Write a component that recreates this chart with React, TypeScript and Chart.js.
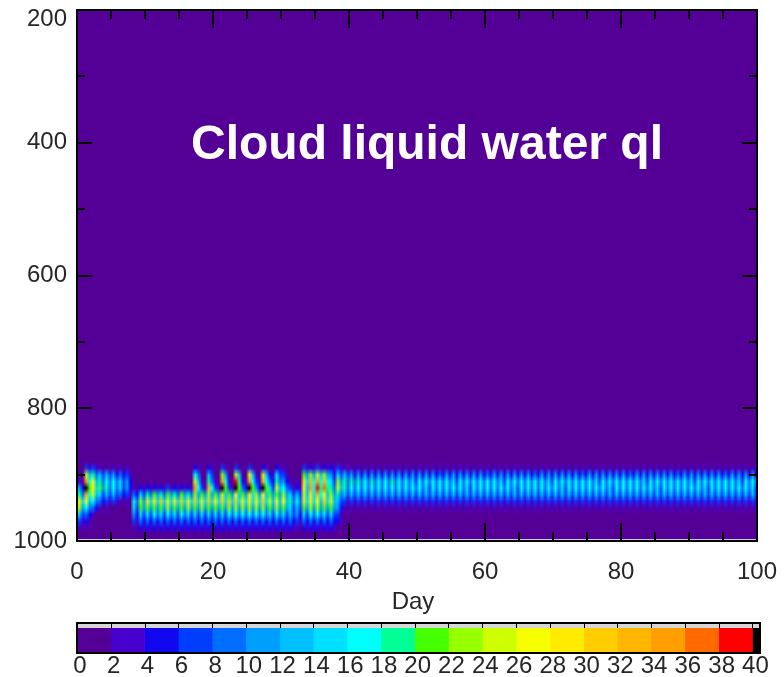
import React, { useEffect, useRef } from "react";
import { Chart, registerables } from "chart.js";

Chart.register(...registerables);

// Pressure (hPa) of each profile row, top to bottom.
const levels = [880, 890, 900, 910, 920, 930, 940, 950, 960, 970, 980, 990, 1000];

// Daily cloud liquid water profiles, days 0..99, one string per day.
// Each character is the colour class of a row: 0-9 then a-j for 10-19
// (class n covers 2n..2n+2 on the 0-40 scale), k for values above 40.
const dailyProfiles = [
  "000159eb63100", "03chkgd842100", "039dec8410000", "0169a74100000", "0168963100000",
  "0158863000000", "0147741000000", "0135531000000", "0000148753100", "000027ba74200",
  "000029ea74200", "00002aea84200", "000029fa74200", "00003aeb84200", "000029ea74200",
  "00002afa84200", "000029eb74200", "028chbfa74200", "00013aeb74200", "0269gbfa74200",
  "00013aea74200", "03bhkcfa74200", "00013afb84200", "03cjkdfb84200", "00024aeb84200",
  "03dhkeeb84200", "00135beb84200", "02cgkdfb84200", "00247aca74200", "0279cadb84200",
  "01358bda74200", "0001379764200", "0001268653100", "03aedcea74200", "02bgheeb84200",
  "03chjgdb84200", "02bgidfa74200", "02579bca74200", "037bc96532000", "0169963100000",
  "0159863100000", "0159863100000", "0158863100000", "0159863100000", "0158863100000",
  "0158863100000", "0159863100000", "0158863100000", "0158863100000", "0157863100000",
  "0158863100000", "0158763100000", "0158863100000", "0148863100000", "0158863100000",
  "0157863100000", "0158863100000", "0158763100000", "0158863100000", "0158863100000",
  "0148863100000", "0158863100000", "0157863100000", "0158863100000", "0158763100000",
  "0158863100000", "0158863100000", "0148863100000", "0158863100000", "0157863100000",
  "0158863100000", "0158763100000", "0158863100000", "0158863100000", "0148863100000",
  "0158863100000", "0157863100000", "0158863100000", "0158763100000", "0158863100000",
  "0158863100000", "0148863100000", "0158863100000", "0157863100000", "0158863100000",
  "0158763100000", "0158863100000", "0158863100000", "0148863100000", "0158863100000",
  "0157863100000", "0158863100000", "0158763100000", "0158863100000", "0158863100000",
  "0148863100000", "0158863100000", "0157863100000", "0158863100000", "0158763100000",
];

const dayTicks = [0, 20, 40, 60, 80, 100];
const pressureTicks = [200, 400, 600, 800, 1000];
const dayMinorStep = 5;
const pressureMinorStep = 100;

// Colour scale bounds (0..40 every 2) and one colour per class, plus black above 40.
const colorBounds = [0, 2, 4, 6, 8, 10, 12, 14, 16, 18, 20, 22, 24, 26, 28, 30, 32, 34, 36, 38, 40];
const palette = [
  "rgb(84,0,150)", "rgb(72,0,205)", "rgb(18,8,240)", "rgb(0,62,255)", "rgb(0,110,255)",
  "rgb(0,158,255)", "rgb(0,192,255)", "rgb(0,224,255)", "rgb(0,255,255)", "rgb(0,255,150)",
  "rgb(70,255,0)", "rgb(150,255,0)", "rgb(205,255,0)", "rgb(245,255,0)", "rgb(255,235,0)",
  "rgb(255,205,0)", "rgb(255,182,0)", "rgb(255,158,0)", "rgb(255,105,0)", "rgb(255,0,0)",
  "rgb(0,0,0)",
];

const FONT = "'Liberation Sans', Arial, sans-serif";
const TEXT = "#262626";

const decode = (c: string) => parseInt(c, 36) * 2 + 1;
const colorFor = (v: number) => palette[Math.max(0, Math.min(20, Math.floor(v / 2)))];

const heatmapPlugin = {
  id: "heatmap",
  beforeDatasetsDraw(chart: any) {
    const { ctx, chartArea: a, scales } = chart;
    const x = scales.x;
    const y = scales.y;

    // One texel per half day and level: the daytime value and the weaker night value.
    const off = document.createElement("canvas");
    off.width = dailyProfiles.length * 2;
    off.height = levels.length;
    const o = off.getContext("2d")!;
    o.fillStyle = palette[0];
    o.fillRect(0, 0, off.width, off.height);
    dailyProfiles.forEach((col, day) => {
      levels.forEach((_p, r) => {
        const v = decode(col[r]);
        o.fillStyle = colorFor(v);
        o.fillRect(day * 2, r, 1, 1);
        o.fillStyle = colorFor(v * 0.5);
        o.fillRect(day * 2 + 1, r, 1, 1);
      });
    });

    const step = levels[1] - levels[0];
    const x0 = x.getPixelForValue(0.1);
    const x1 = x.getPixelForValue(dailyProfiles.length + 0.1);
    const y0 = y.getPixelForValue(levels[0] - step / 2);
    const y1 = y.getPixelForValue(levels[levels.length - 1] + step / 2);

    ctx.save();
    ctx.fillStyle = palette[0];
    ctx.fillRect(a.left, a.top, a.right - a.left, a.bottom - a.top);
    ctx.beginPath();
    ctx.rect(a.left, a.top, a.right - a.left, a.bottom - a.top);
    ctx.clip();
    ctx.imageSmoothingEnabled = true;
    ctx.drawImage(off, x0, y0, x1 - x0, y1 - y0);
    ctx.fillStyle = "rgb(206,200,226)";
    ctx.fillRect(a.left, a.bottom - 2, a.right - a.left, 2);
    ctx.restore();
  },
  afterDraw(chart: any) {
    const { ctx, chartArea: a, scales } = chart;
    const x = scales.x;
    const y = scales.y;
    ctx.save();

    // Panel caption
    ctx.fillStyle = "#ffffff";
    ctx.font = `bold 48px ${FONT}`;
    ctx.textAlign = "center";
    ctx.textBaseline = "alphabetic";
    ctx.fillText("Cloud liquid water ql", 427, 159);

    // Frame
    ctx.strokeStyle = "#000";
    ctx.lineWidth = 2;
    ctx.strokeRect(a.left, a.top, a.right - a.left, a.bottom - a.top);

    // Inward ticks on all four sides
    ctx.beginPath();
    for (let d = 0; d <= 100; d += dayMinorStep) {
      const px = Math.round(x.getPixelForValue(d));
      const len = d % 20 === 0 ? 18 : 9;
      ctx.moveTo(px, a.bottom);
      ctx.lineTo(px, a.bottom - len);
      ctx.moveTo(px, a.top);
      ctx.lineTo(px, a.top + len);
    }
    for (let p = 200; p <= 1000; p += pressureMinorStep) {
      const py = Math.round(y.getPixelForValue(p));
      const len = p % 200 === 0 ? 15 : 8;
      ctx.moveTo(a.left, py);
      ctx.lineTo(a.left + len, py);
      ctx.moveTo(a.right, py);
      ctx.lineTo(a.right - len, py);
    }
    ctx.stroke();

    ctx.fillStyle = TEXT;
    ctx.font = `24px ${FONT}`;

    // Pressure labels
    ctx.textAlign = "right";
    ctx.textBaseline = "middle";
    pressureTicks.forEach((p) => {
      const py = Math.max(y.getPixelForValue(p), a.top + 9);
      ctx.fillText(String(p), a.left - 10, py);
    });

    // Day labels
    ctx.textAlign = "center";
    dayTicks.forEach((d) => {
      ctx.fillText(String(d), x.getPixelForValue(d), a.bottom + 31);
    });

    // Axis title
    ctx.textBaseline = "alphabetic";
    ctx.fillText("Day", (a.left + a.right) / 2 - 4, 609);
    ctx.restore();
  },
};

const colorbarPlugin = {
  id: "colorbarFrame",
  afterDraw(chart: any) {
    const { ctx, chartArea: a, scales } = chart;
    const x = scales.x;
    ctx.save();
    ctx.fillStyle = "#d6d6d6";
    ctx.fillRect(a.left, a.top - 5, a.right - a.left, 5);
    ctx.strokeStyle = "#000";
    ctx.lineWidth = 1;
    ctx.beginPath();
    colorBounds.forEach((v) => {
      const px = Math.round(x.getPixelForValue(v)) + 0.5;
      ctx.moveTo(px, a.top - 5);
      ctx.lineTo(px, a.top);
    });
    ctx.stroke();
    ctx.lineWidth = 2;
    ctx.strokeRect(a.left, a.top - 5, a.right - a.left, a.bottom - a.top + 5);

    ctx.fillStyle = TEXT;
    ctx.font = `24px ${FONT}`;
    ctx.textAlign = "center";
    ctx.textBaseline = "middle";
    colorBounds.forEach((v) => {
      ctx.fillText(String(v), x.getPixelForValue(v) + 3, a.bottom + 13);
    });
    ctx.restore();
  },
};

export default function App() {
  const mainRef = useRef<HTMLCanvasElement>(null);
  const barRef = useRef<HTMLCanvasElement>(null);

  useEffect(() => {
    document.body.style.margin = "0";

    const main = new Chart(mainRef.current!, {
      type: "scatter",
      data: { datasets: [] },
      options: {
        animation: false,
        responsive: false,
        maintainAspectRatio: false,
        layout: { padding: { left: 0, right: 27, top: 10, bottom: 0 } },
        plugins: { legend: { display: false }, tooltip: { enabled: false } },
        scales: {
          x: {
            type: "linear",
            min: 0,
            max: 100,
            grid: { display: false },
            border: { display: false },
            ticks: { display: false },
            afterFit: (s: any) => {
              s.height = 136;
            },
          },
          y: {
            type: "linear",
            min: 200,
            max: 1000,
            reverse: true,
            grid: { display: false },
            border: { display: false },
            ticks: { display: false },
            afterFit: (s: any) => {
              s.width = 77;
            },
          },
        },
      },
      plugins: [heatmapPlugin],
    } as any);

    const classes = colorBounds.slice(0, -1);
    const bar = new Chart(barRef.current!, {
      type: "bar",
      data: {
        labels: [""],
        datasets: [
          ...classes.map((lo, i) => ({
            data: [[lo, lo + 2]],
            backgroundColor: palette[i],
            borderWidth: 0,
            barPercentage: 1,
            categoryPercentage: 1,
            grouped: false,
          })),
          {
            data: [[40, 40.45]],
            backgroundColor: palette[20],
            borderWidth: 0,
            barPercentage: 1,
            categoryPercentage: 1,
            grouped: false,
          },
        ],
      },
      options: {
        indexAxis: "y",
        animation: false,
        responsive: false,
        maintainAspectRatio: false,
        layout: { padding: { left: 77, right: 24, top: 18, bottom: 24 } },
        plugins: { legend: { display: false }, tooltip: { enabled: false } },
        scales: {
          x: { type: "linear", min: 0, max: 40.45, display: false },
          y: { display: false },
        },
      },
      plugins: [colorbarPlugin],
    } as any);

    return () => {
      main.destroy();
      bar.destroy();
    };
  }, []);

  return (
    <div style={{ position: "relative", width: 784, height: 677, background: "#fff" }}>
      <canvas ref={mainRef} width={784} height={677} style={{ position: "absolute", left: 0, top: 0 }} />
      <canvas ref={barRef} width={784} height={67} style={{ position: "absolute", left: 0, top: 610 }} />
    </div>
  );
}
